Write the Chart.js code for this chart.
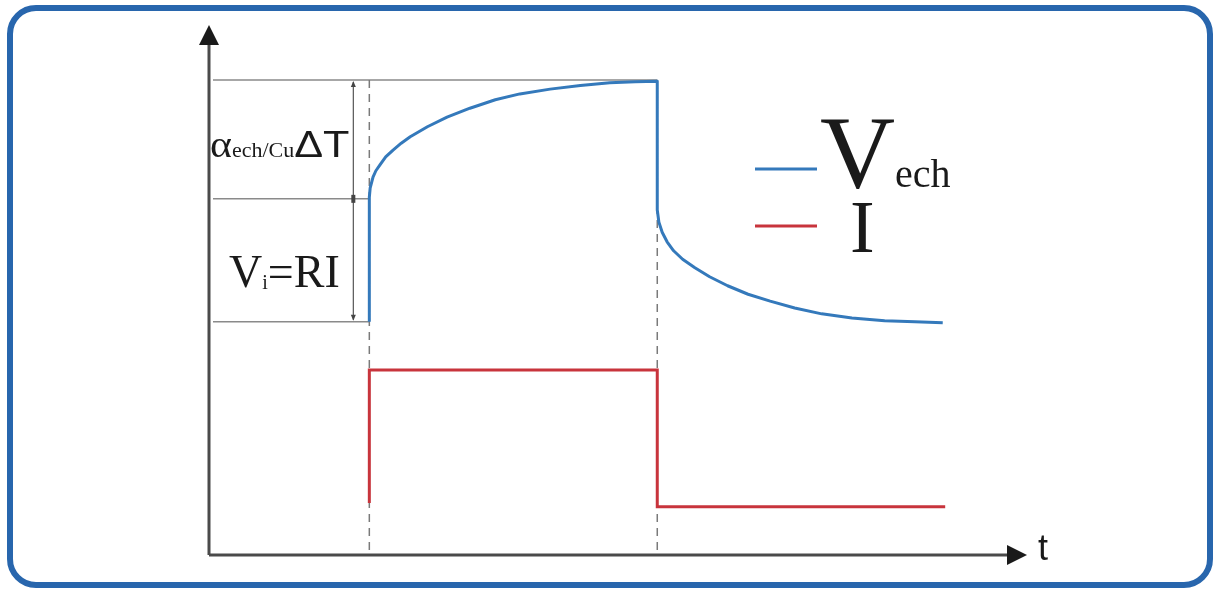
<!DOCTYPE html>
<html>
<head>
<meta charset="utf-8">
<title>V_ech et I</title>
<script src="https://cdn.jsdelivr.net/npm/chart.js@4/dist/chart.umd.min.js"></script>
<style>
  html, body { margin: 0; padding: 0; background: #fff; }
  canvas { display: block; }
</style>
</head>
<body>
<canvas id="chart" width="1216" height="590"></canvas>
<script>
// Données (t et tension en unités arbitraires)
const vTime = [1.96, 1.96, 1.97, 2.005, 2.04, 2.09, 2.16, 2.25, 2.35, 2.46, 2.67, 2.91, 3.19,
               3.50, 3.80, 4.17, 4.54, 4.90, 5.21, 5.48,
               5.48, 5.50, 5.54, 5.60, 5.68, 5.79, 5.94, 6.12, 6.34, 6.59, 6.86, 7.16, 7.49,
               7.86, 8.26, 8.63, 8.97];
const vValue = [4.40, 6.75, 6.92, 7.13, 7.25, 7.36, 7.51, 7.64, 7.77, 7.89, 8.08, 8.26, 8.43,
                8.59, 8.70, 8.79, 8.86, 8.91, 8.93, 8.94,
                6.51, 6.28, 6.09, 5.91, 5.74, 5.58, 5.42, 5.25, 5.08, 4.92, 4.79, 4.66, 4.55,
                4.47, 4.42, 4.40, 4.38];
const iTime = [1.96, 1.96, 5.48, 5.48, 9.0];
const iValue = [0.98, 3.49, 3.49, 0.91, 0.91];

const seriesNames = ['V', 'I'];
const seriesSubs = ['ech', ''];
const seriesColors = ['#3479bb', '#c8343c'];

// niveaux de référence et instants de commutation
const tOn = 1.96;
const tOff = 5.48;
const vBase = 4.40;
const vStep = 6.72;
const vTop = 8.96;
const xLabel = 't';

function toPoints(xs, ys) {
  return xs.map((x, i) => ({ x: x, y: ys[i] }));
}

function arrowHead(ctx, x, y, dir, len, half) {
  ctx.beginPath();
  if (dir === 'up') {
    ctx.moveTo(x, y); ctx.lineTo(x - half, y + len); ctx.lineTo(x + half, y + len);
  } else if (dir === 'down') {
    ctx.moveTo(x, y); ctx.lineTo(x - half, y - len); ctx.lineTo(x + half, y - len);
  } else {
    ctx.moveTo(x, y); ctx.lineTo(x - len, y - half); ctx.lineTo(x - len, y + half);
  }
  ctx.closePath();
  ctx.fill();
}

// texte avec indice : [texte, police, décalage vertical, étirement]
function richText(ctx, x, y, parts) {
  parts.forEach(p => {
    ctx.font = p[1];
    const sx = p[3] || 1;
    ctx.save();
    ctx.translate(x, y + (p[2] || 0));
    ctx.scale(sx, 1);
    ctx.fillText(p[0], 0, 0);
    ctx.restore();
    x += ctx.measureText(p[0]).width * sx;
  });
}

const framePlugin = {
  id: 'frame',
  beforeDraw(chart) {
    const ctx = chart.ctx;
    ctx.save();
    ctx.fillStyle = '#ffffff';
    ctx.fillRect(0, 0, chart.width, chart.height);
    ctx.beginPath();
    ctx.roundRect(10, 8, 1200, 577, 26);
    ctx.lineWidth = 6;
    ctx.strokeStyle = '#2866ad';
    ctx.stroke();
    ctx.restore();
  },
  beforeDatasetsDraw(chart) {
    const ctx = chart.ctx;
    const xs = chart.scales.x, ys = chart.scales.y;
    const area = chart.chartArea;
    const xOn = xs.getPixelForValue(tOn);
    const xOff = xs.getPixelForValue(tOff);
    const yBase = ys.getPixelForValue(vBase);
    const yStep = ys.getPixelForValue(vStep);
    const yTop = ys.getPixelForValue(vTop);
    ctx.save();

    // lignes de repère horizontales
    ctx.strokeStyle = '#8a8a8a';
    ctx.lineWidth = 1.5;
    ctx.beginPath();
    ctx.moveTo(area.left + 4, yTop); ctx.lineTo(xOff, yTop);
    ctx.moveTo(area.left + 4, yStep); ctx.lineTo(xOn, yStep);
    ctx.moveTo(area.left + 4, yBase); ctx.lineTo(xOn, yBase);
    ctx.stroke();

    // pointillés verticaux
    ctx.setLineDash([8, 6]);
    ctx.strokeStyle = '#7a7a7a';
    ctx.beginPath();
    ctx.moveTo(xOn, yTop); ctx.lineTo(xOn, area.bottom);
    ctx.moveTo(xOff, yTop); ctx.lineTo(xOff, area.bottom);
    ctx.stroke();
    ctx.setLineDash([]);

    // cote verticale
    const xd = xOn - 16;
    ctx.strokeStyle = '#555';
    ctx.lineWidth = 1.2;
    ctx.beginPath();
    ctx.moveTo(xd, yTop + 2); ctx.lineTo(xd, yBase - 2);
    ctx.stroke();
    ctx.fillStyle = '#444';
    arrowHead(ctx, xd, yTop + 1, 'up', 6, 2.5);
    arrowHead(ctx, xd, yBase - 1, 'down', 6, 2.5);
    ctx.fillRect(xd - 2, yStep - 4, 4, 8);

    // axes
    ctx.strokeStyle = '#4a4a4a';
    ctx.fillStyle = '#1a1a1a';
    ctx.lineWidth = 3;
    ctx.beginPath();
    ctx.moveTo(area.left, area.bottom); ctx.lineTo(area.left, area.top + 15);
    ctx.moveTo(area.left, area.bottom); ctx.lineTo(area.right - 15, area.bottom);
    ctx.stroke();
    arrowHead(ctx, area.left, area.top, 'up', 20, 10);
    arrowHead(ctx, area.right, area.bottom, 'right', 20, 10);
    ctx.restore();
  },
  afterDraw(chart) {
    const ctx = chart.ctx;
    const area = chart.chartArea;
    ctx.save();
    ctx.fillStyle = '#1a1a1a';
    ctx.textBaseline = 'alphabetic';

    // étiquette de l'axe
    ctx.font = '36px "Liberation Sans", Arial, sans-serif';
    ctx.fillText(xLabel, area.right + 11, area.bottom + 5);

    // annotations
    richText(ctx, 210, 157, [
      ['α', '38px "Liberation Serif", serif', 0, 1.1],
      ['ech/Cu', '22px "Liberation Serif", serif'],
      ['ΔT', '36px "Liberation Sans", Arial, sans-serif', 0, 1.2]
    ]);
    richText(ctx, 229, 287, [
      ['V', '46px "Liberation Serif", serif'],
      ['i', '20px "Liberation Serif", serif', 2],
      ['=RI', '46px "Liberation Serif", serif']
    ]);

    // légende
    const legY = [169, 226];
    const legFont = [104, 74];
    const legBase = [187, 252];
    seriesNames.forEach((name, i) => {
      ctx.strokeStyle = seriesColors[i];
      ctx.lineWidth = 3;
      ctx.beginPath();
      ctx.moveTo(755, legY[i]); ctx.lineTo(817, legY[i]);
      ctx.stroke();
      const parts = [[name, legFont[i] + 'px "Liberation Serif", serif']];
      if (seriesSubs[i]) parts.push([seriesSubs[i], '40px "Liberation Serif", serif']);
      richText(ctx, i === 0 ? 820 : 850, legBase[i], parts);
    });
    ctx.restore();
  }
};

const ctx = document.getElementById('chart').getContext('2d');
new Chart(ctx, {
  type: 'scatter',
  data: {
    datasets: [{
      label: seriesNames[0] + seriesSubs[0],
      data: toPoints(vTime, vValue),
      showLine: true,
      borderColor: seriesColors[0],
      borderWidth: 3,
      borderJoinStyle: 'round',
      pointRadius: 0,
      tension: 0,
      clip: false
    }, {
      label: seriesNames[1],
      data: toPoints(iTime, iValue),
      showLine: true,
      borderColor: seriesColors[1],
      borderWidth: 3,
      pointRadius: 0,
      tension: 0,
      clip: false
    }]
  },
  options: {
    responsive: false,
    animation: false,
    layout: { padding: { left: 209, right: 189, top: 25, bottom: 35 } },
    plugins: {
      legend: { display: false },
      tooltip: { enabled: false }
    },
    scales: {
      x: { type: 'linear', min: 0, max: 10, display: false },
      y: { type: 'linear', min: 0, max: 10, display: false }
    }
  },
  plugins: [framePlugin]
});
</script>
</body>
</html>
